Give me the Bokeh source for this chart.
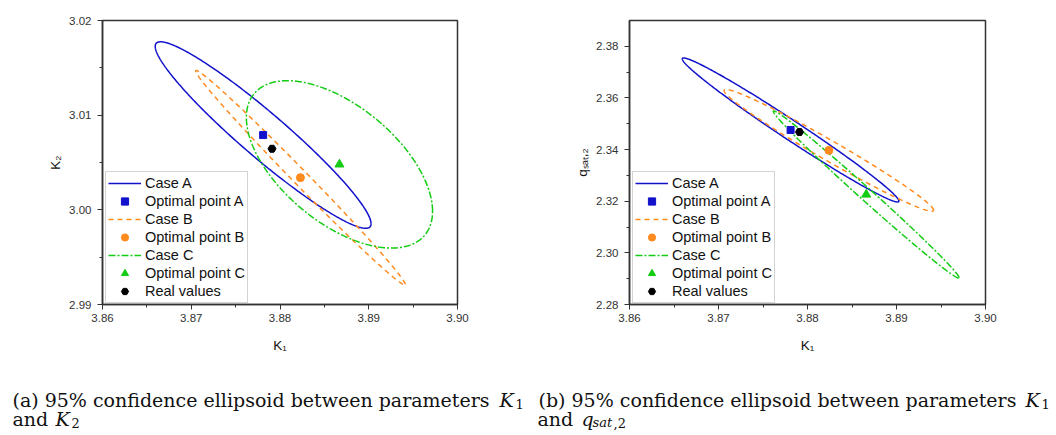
import numpy as np
from bokeh.plotting import figure
from bokeh.layouts import row, column
from bokeh.models import Range1d, FixedTicker, PrintfTickFormatter, Label, Legend, LegendItem
from bokeh.embed import file_html
from bokeh.resources import INLINE

# ---------------- data ----------------
case_labels = ["Case A", "Case B", "Case C"]
point_labels = ["Optimal point A", "Optimal point B", "Optimal point C"]
real_label = "Real values"

x_ticks = [3.86, 3.87, 3.88, 3.89, 3.90]
x_minor = [3.865, 3.875, 3.885, 3.895]

# panel (a): K1 vs K2 -- ellipse centre (= optimal point), half extents, correlation
a_k1_centre = [3.8781, 3.8823, 3.8867]
a_k2_centre = [3.0079, 3.0034, 3.0048]
a_k1_half = [0.01216, 0.01180, 0.01049]
a_k2_half = [0.00985, 0.01132, 0.00884]
a_corr = [-0.950, -0.995, -0.560]
a_real_k1 = [3.8791]
a_real_k2 = [3.00645]
a_y_ticks = [2.99, 3.00, 3.01, 3.02]
a_y_minor = [2.995, 3.005, 3.015]

# panel (b): K1 vs q_sat,2
b_k1_centre = [3.8781, 3.8824, 3.8866]
b_q_centre = [2.3476, 2.3397, 2.3226]
b_k1_half = [0.01217, 0.01177, 0.01044]
b_q_half = [0.02788, 0.02359, 0.03237]
b_corr = [-0.987, -0.982, -0.995]
b_real_k1 = [3.8791]
b_real_q = [2.3468]
b_y_ticks = [2.28, 2.30, 2.32, 2.34, 2.36, 2.38]
b_y_minor = [2.29, 2.31, 2.33, 2.35, 2.37]

x_title = "K\u2081"
a_y_title = "K\u2082"
b_y_title = "q\u209b\u2090\u209c,\u2082"

# ---------------- styles ----------------
colors = ["#1212cc", "#ff8a1e", "#14cc14"]
dashes = ["solid", "5 4", "7 2 2 2"]
markers = ["square", "circle", "triangle"]
marker_sizes = [7, 8, 9]
AX = "#333333"
SANS = "Liberation Sans"
SERIF = "DejaVu Serif"


def ellipse_xy(cx, cy, hx, hy, r, n=400):
    t = np.linspace(0.0, 2.0 * np.pi, n)
    x = cx + hx * np.cos(t)
    y = cy + hy * (r * np.cos(t) + np.sqrt(1.0 - r * r) * np.sin(t))
    return x, y


def lab(p, text, x, y, size, font=SERIF, style="normal", align="left",
        baseline="alphabetic", color="#111111"):
    p.add_layout(Label(x=x, y=y, x_units="screen", y_units="screen", text=text,
                       text_font=font, text_font_size=size, text_font_style=style,
                       text_align=align, text_baseline=baseline, text_color=color))


def make_panel(cxs, cys, hxs, hys, rhos, rx, ry, yr, yt, ym, ytitle, border_left, border_bottom):
    p = figure(width=528, height=365, x_range=Range1d(3.86, 3.90), y_range=Range1d(*yr),
               output_backend="svg", toolbar_location=None,
               min_border_left=border_left, min_border_right=71,
               min_border_top=20, min_border_bottom=border_bottom)
    p.background_fill_color = "white"
    p.border_fill_color = "white"
    p.outline_line_color = AX
    p.outline_line_width = 1.5
    p.xgrid.visible = False
    p.ygrid.visible = False
    p.xaxis.ticker = FixedTicker(ticks=x_ticks, minor_ticks=x_minor)
    p.yaxis.ticker = FixedTicker(ticks=yt, minor_ticks=ym)
    p.xaxis.formatter = PrintfTickFormatter(format="%.2f")
    p.yaxis.formatter = PrintfTickFormatter(format="%.2f")
    p.xaxis.axis_label = x_title
    p.yaxis.axis_label = ytitle
    for ax in (p.xaxis[0], p.yaxis[0]):
        ax.axis_line_color = AX
        ax.axis_line_width = 1.5
        ax.major_tick_line_color = AX
        ax.minor_tick_line_color = AX
        ax.major_tick_out = 5
        ax.major_tick_in = 0
        ax.minor_tick_out = 3
        ax.minor_tick_in = 0
        ax.major_label_text_font = SANS
        ax.major_label_text_font_size = "11.5px"
        ax.major_label_text_color = "#333333"
        ax.axis_label_text_font = SANS
        ax.axis_label_text_font_size = "13.5px"
        ax.axis_label_text_font_style = "normal"
        ax.axis_label_text_color = "#111111"
    p.xaxis.major_label_standoff = 4
    p.yaxis.major_label_standoff = 6
    p.xaxis.axis_label_standoff = 13
    p.yaxis.axis_label_standoff = 3

    lines = []
    for i in range(3):
        ex, ey = ellipse_xy(cxs[i], cys[i], hxs[i], hys[i], rhos[i])
        lines.append(p.line(ex, ey, line_color=colors[i], line_width=1.5, line_dash=dashes[i]))
    pts = []
    for i in range(3):
        pts.append(p.scatter([cxs[i]], [cys[i]], marker=markers[i], size=marker_sizes[i],
                             fill_color=colors[i], line_color=colors[i]))
    real = p.scatter(rx, ry, marker="hex", size=8, fill_color="black", line_color="black")
    items = []
    for i in range(3):
        items.append(LegendItem(label=case_labels[i], renderers=[lines[i]]))
        items.append(LegendItem(label=point_labels[i], renderers=[pts[i]]))
    items.append(LegendItem(label=real_label, renderers=[real]))
    legend = Legend(items=items, location=(3, 1), glyph_width=33, glyph_height=18,
                    label_height=18, label_standoff=4, spacing=0, padding=2, margin=0,
                    border_line_color="#a8a8a8", border_line_width=1.5,
                    background_fill_color="white", background_fill_alpha=1.0,
                    label_text_font=SANS, label_text_font_size="14.5px",
                    label_text_color="#111111")
    p.add_layout(legend)
    return p


p1 = make_panel(a_k1_centre, a_k2_centre, a_k1_half, a_k2_half, a_corr,
                a_real_k1, a_real_k2, (2.99, 3.02), a_y_ticks, a_y_minor, a_y_title, 102, 61)
p2 = make_panel(b_k1_centre, b_q_centre, b_k1_half, b_q_half, b_corr,
                b_real_k1, b_real_q, (2.28, 2.39), b_y_ticks, b_y_minor, b_y_title, 101, 60)

# caption strip: frame covers the whole strip, so screen units = canvas pixels from bottom-left
cap = figure(width=1056, height=70, x_range=Range1d(0, 1), y_range=Range1d(0, 1),
             output_backend="svg", toolbar_location=None, x_axis_location=None,
             y_axis_location=None, min_border=0)
cap.outline_line_color = None
cap.xgrid.visible = False
cap.ygrid.visible = False
cap.background_fill_color = "white"
cap.border_fill_color = "white"

lab(cap, "(a) 95% confidence ellipsoid between parameters", 12, 36, "19px")
lab(cap, "K", 499, 36, "19px", style="italic")
lab(cap, "1", 515, 32, "13px")
lab(cap, "and", 12, 17, "19px")
lab(cap, "K", 55, 17, "19px", style="italic")
lab(cap, "2", 71, 13, "13px")

lab(cap, "(b) 95% confidence ellipsoid between parameters", 538, 36, "19px")
lab(cap, "K", 1025, 36, "19px", style="italic")
lab(cap, "1", 1041, 32, "13px")
lab(cap, "and", 537, 17, "19px")
lab(cap, "q", 581, 17, "19px", style="italic")
lab(cap, "sat", 592, 13, "13px", style="italic")
lab(cap, ",2", 613, 13, "13px")

layout = column(row(p1, p2), cap)
open("out.html", "w").write(file_html(layout, INLINE))
